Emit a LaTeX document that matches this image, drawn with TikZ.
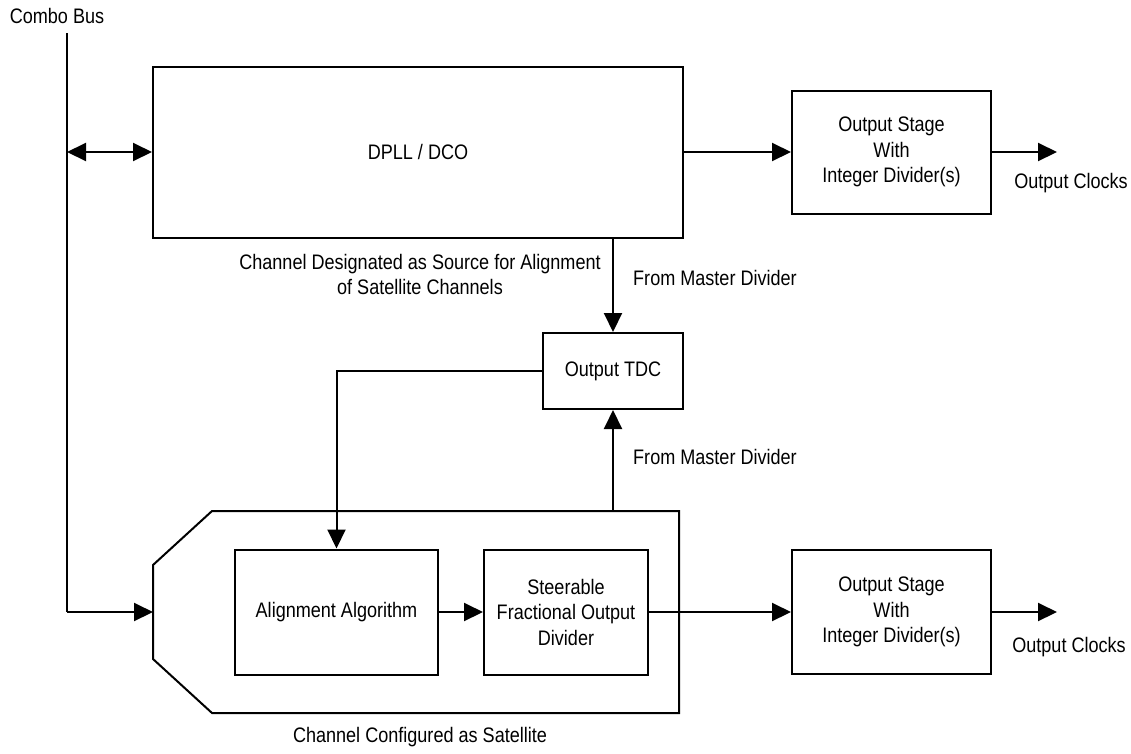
\documentclass[tikz,border=0pt]{standalone}
\usepackage{fontspec}
\setmainfont[FakeStretch=0.86]{Liberation Sans}
\usepackage{tikz}
\usetikzlibrary{positioning, arrows.meta}

\begin{document}
\begin{tikzpicture}[x=1pt,y=-1pt]
					\tikzstyle{block}=[rectangle,draw=black,line width=2pt,inner sep=0pt,align=center,font=\fontsize{21}{25.5}\selectfont]
					\tikzstyle{label}=[inner sep=0pt,align=center,font=\fontsize{21}{25.5}\selectfont]
					\tikzstyle{wire}=[line width=2pt,-{Triangle[length=19pt,width=18pt]}]
					\useasboundingbox (0,0) rectangle (1131,753);
					% blocks
					\node[block,minimum width=530pt,minimum height=171pt](dpll) at (418,152){DPLL / DCO};
					\node[block,minimum width=199pt,minimum height=123pt](out1) at (891.5,152){Output Stage\\With\\Integer Divider(s)};
					\node[block,minimum width=140pt,minimum height=76pt](tdc) at (613,371){Output TDC};
					\node[block,minimum width=203pt,minimum height=125pt](align) at (336.5,612){Alignment Algorithm};
					\node[block,minimum width=164pt,minimum height=125pt](steer) at (566,612){Steerable\\Fractional Output\\Divider};
					\node[block,minimum width=199pt,minimum height=124pt](out2) at (891.5,612){Output Stage\\With\\Integer Divider(s)};
					% satellite channel outline
					\draw[line width=2pt] (212,511) -- (679,511) -- (679,713) -- (212,713) -- (153,659) -- (153,565) -- cycle;
					\coordinate (satin) at (153,612);
					\coordinate (satop) at (613,511);
					% bus and free ends
					\coordinate (bustop) at (67,33);
					\coordinate (busmid) at (67,152);
					\coordinate (busbot) at (67,612);
					\coordinate (oc1) at (1057,152);
					\coordinate (oc2) at (1057,612);
					% labels
					\node[label](combo) at (57,16){Combo Bus};
					\node[label](clk1) at (1071,183){Output Clocks};
					\node[label](clk2) at (1069,647){Output Clocks};
					\node[label,anchor=west](md1) at (633,278){From Master Divider};
					\node[label,anchor=west](md2) at (633,457){From Master Divider};
					\node[label](src) at (420,274.5){Channel Designated as Source for Alignment\\of Satellite Channels};
					\node[label](sat) at (420,737){Channel Configured as Satellite};
					% connectors
					\draw[line width=2pt] (bustop) -- (busbot);
					\path[wire]
						(busbot) edge (satin)
						(dpll.east) edge (out1.west)
						(out1.east) edge (oc1)
						(tdc |- dpll.south) edge (tdc.north)
						(tdc |- satop) edge (tdc.south)
						(align.east) edge (steer.west)
						(steer.east) edge (out2.west)
						(out2.east) edge (oc2);
					\draw[wire,{Triangle[length=19pt,width=18pt]}-{Triangle[length=19pt,width=18pt]}] (busmid) -- (dpll.west);
					\draw[wire] (tdc.west) -| (align.north);
				\end{tikzpicture}
\end{document}
